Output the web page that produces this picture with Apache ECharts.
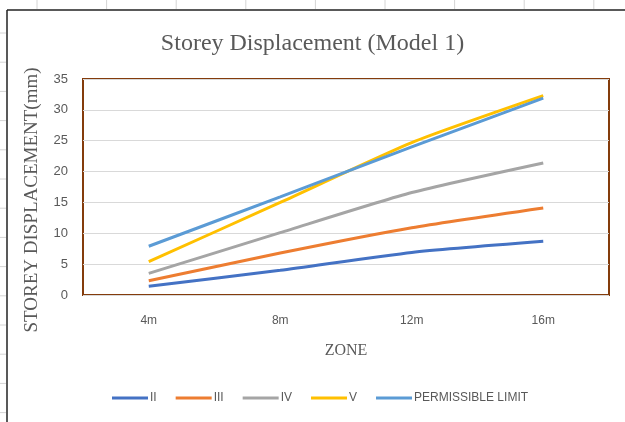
<!DOCTYPE html>
<html>
<head>
<meta charset="utf-8">
<script src="https://cdn.jsdelivr.net/npm/echarts@6/dist/echarts.min.js"></script>
<style>
  html, body { margin: 0; padding: 0; background: #fff; }
  #chart { width: 625px; height: 422px; }
</style>
</head>
<body>
<div id="chart"></div>
<script>
// data
var zones = ['4m', '8m', '12m', '16m'];
var seriesII = [1.4, 4.0, 6.9, 8.7];
var seriesIII = [2.3, 6.8, 10.9, 14.1];
var seriesIV = [3.5, 10.1, 16.6, 21.4];
var seriesV = [5.4, 15.0, 24.7, 32.3];
var permissible = [7.9, 15.9, 24.0, 31.9];

var names = ['II', 'III', 'IV', 'V', 'PERMISSIBLE LIMIT'];
var colors = ['#4472C4', '#ED7D31', '#A5A5A5', '#FFC000', '#5B9BD5'];
var values = [seriesII, seriesIII, seriesIV, seriesV, permissible];

// spreadsheet frame around the chart (left and top edges with small ticks)
var frame = [];
for (var ty = 33; ty < 422; ty += 29.2) {
  frame.push({type: 'line', shape: {x1: 0, y1: ty, x2: 6, y2: ty}, style: {stroke: '#d4d4d4', lineWidth: 1}});
}
for (var tx = 37; tx < 625; tx += 69.6) {
  frame.push({type: 'line', shape: {x1: tx, y1: 0, x2: tx, y2: 9}, style: {stroke: '#d4d4d4', lineWidth: 1}});
}
frame.push({type: 'line', shape: {x1: 7, y1: 10, x2: 625, y2: 10}, style: {stroke: '#222', lineWidth: 1.5}});
frame.push({type: 'line', shape: {x1: 7, y1: 10, x2: 7, y2: 422}, style: {stroke: '#222', lineWidth: 1.5}});

var myChart = echarts.init(document.getElementById('chart'));
myChart.setOption({
  animation: false,
  backgroundColor: '#fff',
  title: {
    text: 'Storey Displacement (Model 1)',
    left: 'center',
    top: 27,
    textStyle: {fontFamily: 'Liberation Serif', fontSize: 24, fontWeight: 'normal', color: '#595959'}
  },
  graphic: frame,
  legend: {
    data: names,
    bottom: 13,
    left: 107,
    itemWidth: 36,
    itemHeight: 3,
    itemGap: 19,
    icon: 'rect',
    textStyle: {fontFamily: 'Liberation Sans', fontSize: 12, color: '#595959', padding: [0, 0, 0, -3]}
  },
  grid: {
    left: 83,
    right: 16,
    top: 79,
    bottom: 127,
    show: true,
    borderColor: '#843C0C',
    borderWidth: 2
  },
  xAxis: {
    type: 'category',
    data: zones,
    boundaryGap: true,
    name: 'ZONE',
    nameLocation: 'middle',
    nameGap: 48,
    nameTextStyle: {fontFamily: 'Liberation Serif', fontSize: 16, color: '#595959'},
    axisLine: {show: false},
    axisTick: {show: false},
    axisLabel: {margin: 20, fontFamily: 'Liberation Sans', fontSize: 12, color: '#595959'}
  },
  yAxis: {
    type: 'value',
    min: 0,
    max: 35,
    interval: 5,
    name: 'STOREY DISPLACEMENT(mm)',
    nameLocation: 'middle',
    nameGap: 41,
    nameTextStyle: {fontFamily: 'Liberation Serif', fontSize: 19, color: '#595959', padding: [0, 26, 0, 0]},
    axisLine: {show: false},
    axisTick: {show: false},
    axisLabel: {margin: 15, fontFamily: 'Liberation Sans', fontSize: 13, color: '#595959'},
    splitLine: {lineStyle: {color: '#D9D9D9', width: 1}}
  },
  series: names.map(function (n, i) {
    return {
      name: n,
      type: 'line',
      data: values[i],
      smooth: 0.2,
      symbol: 'none',
      color: colors[i],
      lineStyle: {width: 3, color: colors[i]}
    };
  })
});
</script>
</body>
</html>
